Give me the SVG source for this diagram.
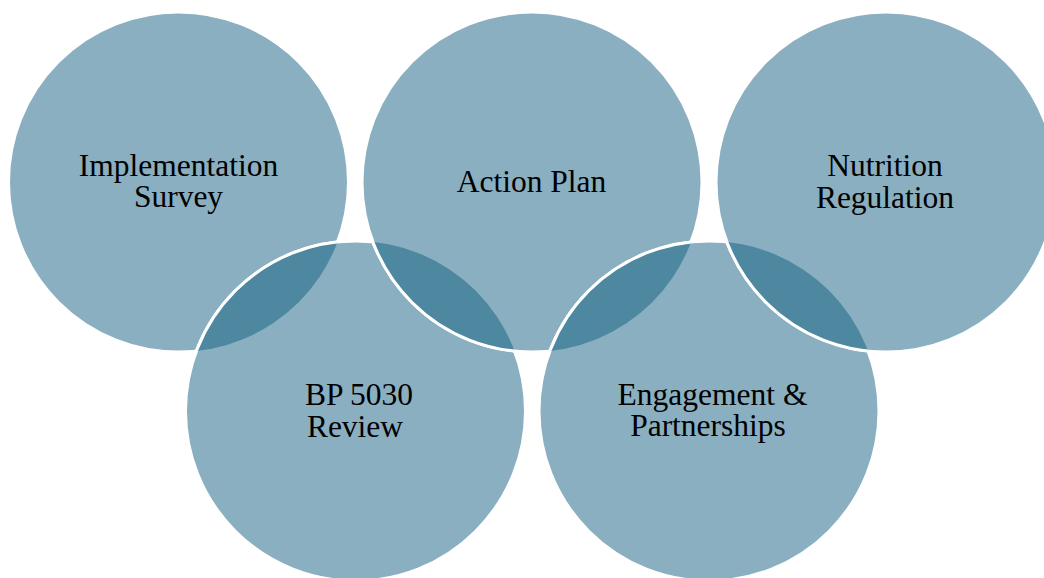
<svg xmlns="http://www.w3.org/2000/svg" width="1044" height="578" viewBox="0 0 1044 578">
<style>
.c{fill:#8AAFC1;stroke:#FFFFFF;stroke-width:3}
.d{fill:#4D87A0;stroke:#FFFFFF;stroke-width:3}
.t{font-family:"Liberation Serif","Times New Roman",serif;font-size:31.5px;fill:#000000;text-anchor:middle}
</style>
<defs>
<clipPath id="k1"><circle cx="178.5" cy="182" r="170"/></clipPath>
<clipPath id="k2"><circle cx="355.5" cy="411" r="170"/></clipPath>
<clipPath id="k3"><circle cx="532" cy="182" r="170"/></clipPath>
<clipPath id="k4"><circle cx="709" cy="411" r="170"/></clipPath>
</defs>
<rect width="1044" height="578" fill="#FFFFFF"/>
<g id="node-implementation">
<circle class="c" cx="178.5" cy="182" r="170"/>
</g>
<g id="node-bp5030">
<circle class="c" cx="355.5" cy="411" r="170"/>
<circle class="d" cx="355.5" cy="411" r="170" clip-path="url(#k1)"/>
</g>
<g id="node-action">
<circle class="c" cx="532" cy="182" r="170"/>
<circle class="d" cx="532" cy="182" r="170" clip-path="url(#k2)"/>
</g>
<g id="node-engagement">
<circle class="c" cx="709" cy="411" r="170"/>
<circle class="d" cx="709" cy="411" r="170" clip-path="url(#k3)"/>
</g>
<g id="node-nutrition">
<circle class="c" cx="886" cy="182" r="170"/>
<circle class="d" cx="886" cy="182" r="170" clip-path="url(#k4)"/>
</g>
<g id="labels">
<text class="t" x="178.5" y="176">Implementation</text>
<text class="t" x="178.5" y="207">Survey</text>
<text class="t" x="531.5" y="192">Action Plan</text>
<text class="t" x="885" y="176">Nutrition</text>
<text class="t" x="885" y="208">Regulation</text>
<text class="t" x="359" y="405">BP 5030</text>
<text class="t" x="355" y="437">Review</text>
<text class="t" x="712.5" y="405">Engagement &amp;</text>
<text class="t" x="708" y="436">Partnerships</text>
</g>
<g id="connectors"/>
</svg>
